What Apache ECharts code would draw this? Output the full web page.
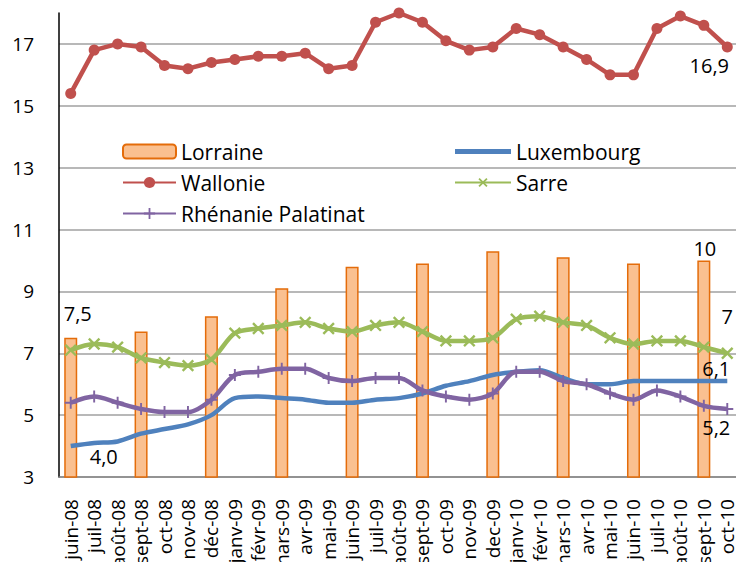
<!DOCTYPE html>
<html>
<head>
<meta charset="utf-8">
<script src="https://cdn.jsdelivr.net/npm/echarts@6/dist/echarts.min.js"></script>
<style>
  html, body { margin: 0; padding: 0; background: #fff; }
  #chart { width: 736px; height: 562px; }
</style>
</head>
<body>
<div id="chart"></div>
<script>
var months = ['juin-08','juil-08','août-08','sept-08','oct-08','nov-08','déc-08','janv-09','févr-09','mars-09','avr-09','mai-09','juin-09','juil-09','août-09','sept-09','oct-09','nov-09','dec-09','janv-10','févr-10','mars-10','avr-10','mai-10','juin-10','juil-10','août-10','sept-10','oct-10'];
var lorraine = [7.5,null,null,7.7,null,null,8.2,null,null,9.1,null,null,9.8,null,null,9.9,null,null,10.3,null,null,10.1,null,null,9.9,null,null,10.0,null];
var wallonie = [15.4,16.8,17.0,16.9,16.3,16.2,16.4,16.5,16.6,16.6,16.7,16.2,16.3,17.7,18.0,17.7,17.1,16.8,16.9,17.5,17.3,16.9,16.5,16.0,16.0,17.5,17.9,17.6,16.9];
var luxembourg = [4.0,4.1,4.15,4.4,4.55,4.7,5.0,5.55,5.6,5.55,5.5,5.4,5.4,5.5,5.55,5.7,5.95,6.1,6.3,6.4,6.45,6.2,6.0,6.0,6.1,6.1,6.1,6.1,6.1];
var sarre = [7.1,7.3,7.2,6.85,6.7,6.6,6.8,7.65,7.8,7.9,8.0,7.8,7.7,7.9,8.0,7.7,7.4,7.4,7.5,8.1,8.2,8.0,7.9,7.5,7.3,7.4,7.4,7.2,7.0];
var rhenanie = [5.4,5.6,5.4,5.2,5.1,5.1,5.5,6.3,6.4,6.5,6.5,6.2,6.1,6.2,6.2,5.8,5.6,5.5,5.7,6.4,6.4,6.1,6.0,5.7,5.5,5.8,5.6,5.3,5.2];
var yTicks = { min: 3, max: 18, interval: 2 };

var font = 'Open Sans';
var last = months.length - 1;

// attach a data label to selected points
function labelled(values, labels) {
  return values.map(function(v, i) {
    var l = labels[i];
    if (!l) return v;
    return {
      value: v,
      label: {
        show: true, position: l.pos, offset: l.offset || [0, 0], distance: l.dist == null ? 5 : l.dist,
        formatter: l.text, color: '#000', fontSize: 20, fontFamily: font
      }
    };
  });
}

var lorraineLabels = {};
lorraineLabels[0] = { text: '7,5', pos: 'top', offset: [7, 0], dist: 14 };
lorraineLabels[27] = { text: '10', pos: 'top', offset: [1, 0], dist: 2 };
var wallonieLabels = {};
wallonieLabels[last] = { text: '16,9', pos: 'bottom', offset: [-18, 0], dist: 3 };
var luxLabels = {};
luxLabels[0] = { text: '4,0', pos: 'bottom', offset: [33, -2], dist: 2 };
luxLabels[last] = { text: '6,1', pos: 'top', offset: [-11, 0], dist: 3 };
var sarreLabels = {};
sarreLabels[last] = { text: '7', pos: 'top', offset: [0, -10], dist: 6 };
var rhenLabels = {};
rhenLabels[last] = { text: '5,2', pos: 'bottom', offset: [-11, 0], dist: 3 };

var plusPath = 'path://M4.2,0H5.8V4.2H10V5.8H5.8V10H4.2V5.8H0V4.2H4.2Z';
var lineIcon = 'path://M0,0H112V10H0Z';

var chart = echarts.init(document.getElementById('chart'), null, { renderer: 'svg' });
chart.setOption({
  animation: false,
  grid: { left: 59, right: -3, top: 13, bottom: 85, containLabel: false, outerBoundsMode: 'none' },
  legend: [
    {
      data: ['Lorraine', 'Wallonie', 'Rhénanie Palatinat'],
      orient: 'vertical', left: 117, top: 136, itemGap: 10,
      itemWidth: 53, itemHeight: 14,
      textStyle: { color: '#000', fontSize: 21, fontFamily: font }
    },
    {
      data: [{ name: 'Luxembourg', icon: lineIcon }, 'Sarre'],
      orient: 'vertical', left: 449, top: 136, itemGap: 10,
      itemWidth: 56, itemHeight: 14,
      textStyle: { color: '#000', fontSize: 21, fontFamily: font }
    }
  ],
  xAxis: {
    type: 'category',
    data: months,
    boundaryGap: true,
    axisLine: { lineStyle: { color: '#868686', width: 1.5 } },
    axisTick: { show: false },
    axisLabel: { rotate: 90, margin: 22, interval: 0, color: '#000', fontSize: 19, fontFamily: font }
  },
  yAxis: {
    type: 'value',
    min: yTicks.min, max: yTicks.max, interval: yTicks.interval,
    axisLine: { show: true, lineStyle: { color: '#000', width: 1.5 } },
    axisTick: { show: false },
    axisLabel: { showMaxLabel: false, margin: 25, color: '#000', fontSize: 19, fontFamily: font },
    splitLine: { show: true, showMaxLine: false, lineStyle: { color: '#a0a0a0', width: 1.5 } }
  },
  series: [
    {
      name: 'Lorraine', type: 'bar', barWidth: 13,
      data: labelled(lorraine, lorraineLabels),
      itemStyle: { color: '#FAC090', borderColor: '#E46C0A', borderWidth: 1.5 }
    },
    {
      name: 'Luxembourg', type: 'line', smooth: 0.3, symbol: 'circle', symbolSize: 0.1,
      data: labelled(luxembourg, luxLabels),
      lineStyle: { color: '#4F81BD', width: 4.5 },
      itemStyle: { color: '#4F81BD' }
    },
    {
      name: 'Wallonie', type: 'line', symbol: 'circle', symbolSize: 11,
      data: labelled(wallonie, wallonieLabels),
      lineStyle: { color: '#C0504D', width: 4.5 },
      itemStyle: { color: '#C0504D' }
    },
    {
      name: 'Sarre', type: 'line', smooth: 0.3, symbol: plusPath, symbolSize: 15, symbolRotate: 45,
      data: labelled(sarre, sarreLabels),
      lineStyle: { color: '#9BBB59', width: 4.5 },
      itemStyle: { color: '#9BBB59' }
    },
    {
      name: 'Rhénanie Palatinat', type: 'line', smooth: 0.3, symbol: plusPath, symbolSize: 12,
      data: labelled(rhenanie, rhenLabels),
      lineStyle: { color: '#8064A2', width: 4.5 },
      itemStyle: { color: '#8064A2' }
    }
  ]
});
window.addEventListener('resize', function() { chart.resize(); });
</script>
</body>
</html>
